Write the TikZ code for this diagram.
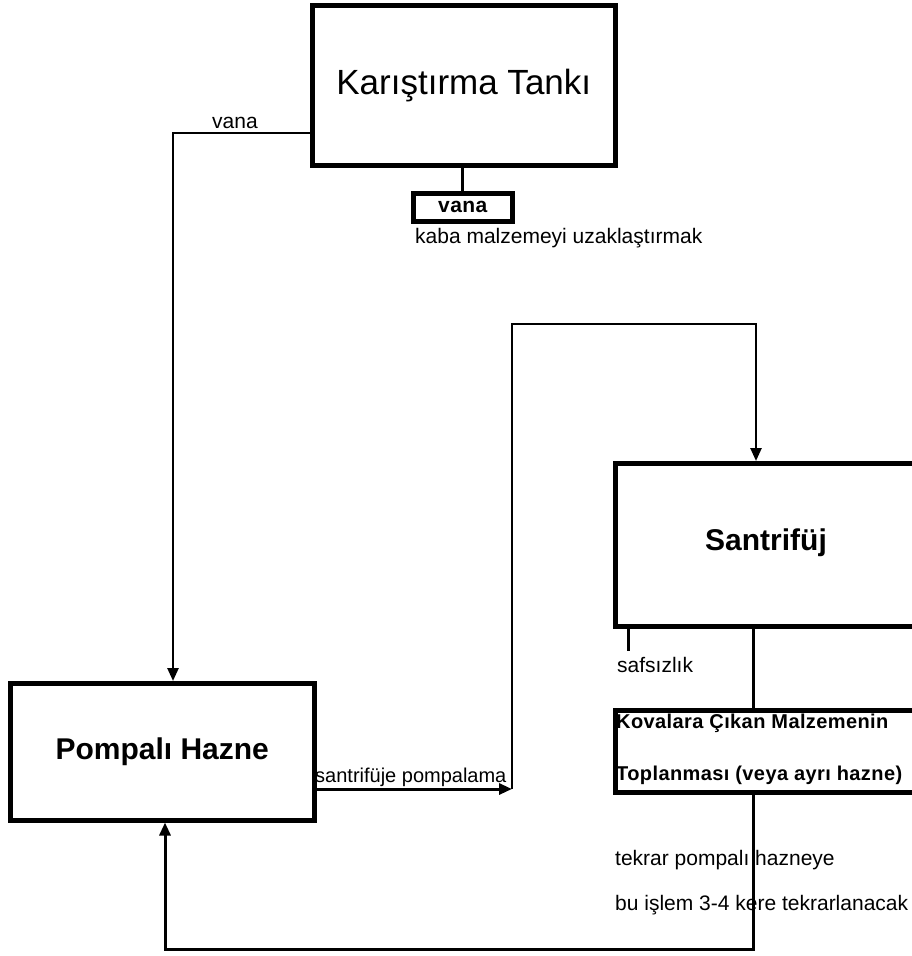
\documentclass[tikz,border=0pt]{standalone}
\usepackage{fontspec}
\setmainfont{Liberation Sans}
\newfontfamily\spacedbold[LetterSpace=2]{Liberation Sans Bold}
\usetikzlibrary{arrows.meta}
\begin{document}
\begin{tikzpicture}[x=1pt,y=-1pt,
  box/.style={draw, line width=4.5pt, inner sep=0pt, anchor=north west},
  conn/.style={line width=2.5pt},
  heavy/.style={line width=3pt},
  arr/.style={-{Triangle[length=13pt,width=11pt]}},
  bigtxt/.style={font=\fontsize{35}{42}\selectfont},
  bigbold/.style={font=\fontsize{30}{36}\selectfont\bfseries},
  smalltxt/.style={font=\fontsize{21}{25}\selectfont, inner sep=0pt},
  smallbold/.style={font=\fontsize{20}{24}\selectfont\spacedbold, inner sep=0pt}
]
\useasboundingbox (0,0) rectangle (912,956);
\clip (0,0) rectangle (912,956);

% process boxes
\node[box, minimum width=303pt, minimum height=160pt] (tank) at (310,3) {};
\node[bigtxt] (tanktxt) at (tank.center) {Karıştırma Tankı};
\node[box, minimum width=99pt, minimum height=28pt] (valve) at (411,191) {};
\node[smallbold, font=\fontsize{21}{25}\selectfont\spacedbold] (valvetxt) at (valve.center) {vana};
\node[box, minimum width=304pt, minimum height=137pt] (pump) at (8,681) {};
\node[bigbold] (pumptxt) at (pump.center) {Pompalı Hazne};
\node[box, minimum width=312pt, minimum height=163pt] (centri) at (613,461) {};
\node[bigbold] (centritxt) at (766,543) {Santrifüj};
\node[box, minimum width=312pt, minimum height=82pt] (collect) at (613,708) {};
\node[smallbold, anchor=west] (coll1) at (616,723) {Kovalara Çıkan Malzemenin};
\node[smallbold, anchor=west] (coll2) at (616,775) {Toplanması (veya ayrı hazne)};

% free labels
\node[smalltxt] (lblvana) at (235,123) {vana};
\node[smalltxt, anchor=west] (lblkaba) at (415,238) {kaba malzemeyi uzaklaştırmak};
\node[smalltxt, anchor=base west, font=\fontsize{20}{24}\selectfont] (lblpump) at (315,782) {santrifüje pompalama};
\node[smalltxt, anchor=west] (lblsaf) at (617,665) {safsızlık};
\node[smalltxt, anchor=west] (lblback) at (615,860) {tekrar pompalı hazneye};
\node[smalltxt, anchor=west] (lblrep) at (615,905) {bu işlem 3-4 kere tekrarlanacak};

% routing points
\coordinate (k1) at (173,133);
\coordinate (j1) at (512,789);
\coordinate (j2) at (512,324);
\coordinate (j3) at (756,324);
\coordinate (s1) at (628,651);
\coordinate (r1) at (753,949);
\coordinate (r2) at (165,949);

% mixing tank to pump tank through the valve
\draw[conn, arr] (k1 -| tank.west) -- (k1) -- (k1 |- pump.north);
% stem to the bottom valve
\draw[heavy] (valve.north) -- (valve.north |- tank.south);
% pump tank to centrifuge
\draw[heavy, arr] (pump.east |- j1) -- (j1);
\draw[conn, arr] (j1) -- (j2) -- (j3) -- (j3 |- centri.north);
% impurity outlet
\draw[heavy] (s1 |- centri.south) -- (s1);
% centrifuge to collection
\draw[heavy] (r1 |- centri.south) -- (r1 |- collect.north);
% back to the pump tank
\draw[heavy, arr] (r1 |- collect.south) -- (r1) -- (r2) -- (r2 |- pump.south);
\end{tikzpicture}
\end{document}
